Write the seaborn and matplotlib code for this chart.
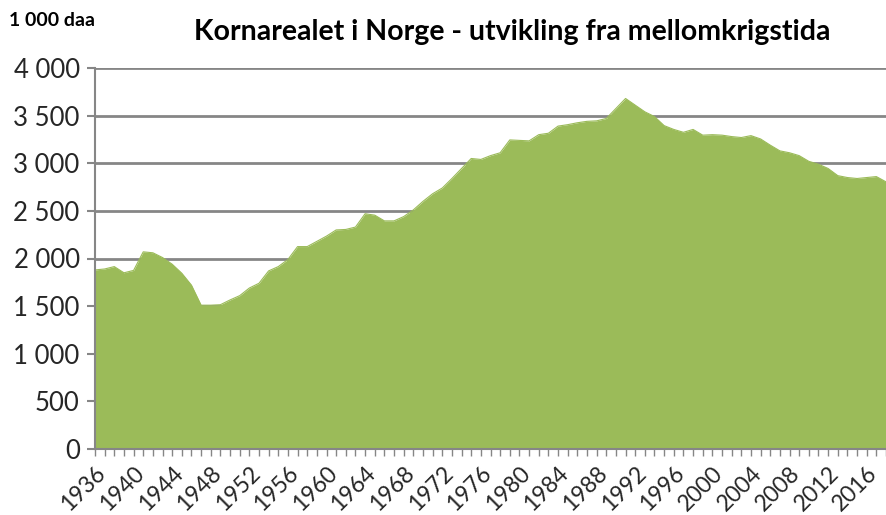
import matplotlib
matplotlib.use("Agg")
import matplotlib.pyplot as plt
from matplotlib.ticker import MultipleLocator, FuncFormatter
import seaborn as sns
import pandas as pd

years = list(range(1936, 2019))
area = [1880, 1890, 1915, 1850, 1875, 2070, 2060, 2010, 1940, 1845,
        1720, 1510, 1510, 1515, 1565, 1610, 1690, 1740, 1870, 1915,
        1990, 2125, 2125, 2180, 2235, 2300, 2305, 2330, 2470, 2455,
        2395, 2395, 2440, 2510, 2600, 2680, 2740, 2840, 2945, 3050,
        3040, 3080, 3110, 3245, 3240, 3235, 3300, 3315, 3390, 3405,
        3425, 3440, 3445, 3470, 3575, 3680, 3610, 3540, 3490, 3395,
        3355, 3325, 3355, 3295, 3300, 3295, 3280, 3270, 3290, 3255,
        3190, 3130, 3110, 3080, 3020, 2990, 2945, 2870, 2850, 2840,
        2850, 2860, 2805]
title = "Kornarealet i Norge - utvikling fra mellomkrigstida"
unit = "1 000 daa"

df = pd.DataFrame({"year": years, "area": area})

sns.set_theme(style="white")
plt.rcParams["font.family"] = ["Lato", "DejaVu Sans"]

green = "#9BBB59"
grid = "#868686"

fig = plt.figure(figsize=(8.86, 5.15), dpi=100)
ax = fig.add_axes([95 / 886, 1 - 449 / 515, 1 - 95 / 886, (449 - 68) / 515])

sns.lineplot(data=df, x="year", y="area", color=green, linewidth=0.8, ax=ax, zorder=3)
ax.fill_between(df["year"], 0, df["area"], color=green, linewidth=0, zorder=3)

ax.set_xlim(1936, 2018)
ax.set_ylim(0, 4000)
ax.yaxis.set_major_locator(MultipleLocator(500))
ax.yaxis.set_major_formatter(FuncFormatter(lambda v, p: f"{int(v):,}".replace(",", " ")))
ax.xaxis.set_major_locator(MultipleLocator(4))
ax.xaxis.set_minor_locator(MultipleLocator(1))
ax.grid(axis="y", color=grid, linewidth=2, zorder=0)
ax.set_axisbelow(True)

for s in ["top", "right"]:
    ax.spines[s].set_visible(False)
for s in ["left", "bottom"]:
    ax.spines[s].set_color(grid)
    ax.spines[s].set_linewidth(1.5)
    ax.spines[s].set_zorder(4)

ax.tick_params(axis="y", which="major", direction="out", length=6, width=1.5,
               color=grid, labelsize=18.5, pad=5, left=True)
ax.tick_params(axis="x", which="both", direction="out", length=5, width=1,
               color=grid, bottom=True)
ax.tick_params(axis="x", which="major", labelsize=16.5, pad=5)
for lab in ax.get_xticklabels():
    lab.set_rotation(45)
    lab.set_ha("right")
    lab.set_rotation_mode("anchor")

ax.set_xlabel("")
ax.set_ylabel("")

fig.text(9 / 886, 1 - 20 / 515, unit, fontsize=14, fontweight="bold",
         ha="left", va="center", color="black")
fig.text(512 / 886, 1 - 32 / 515, title, fontsize=20.5, fontweight="bold",
         ha="center", va="center", color="black")

fig.savefig("out.png", dpi=100)
